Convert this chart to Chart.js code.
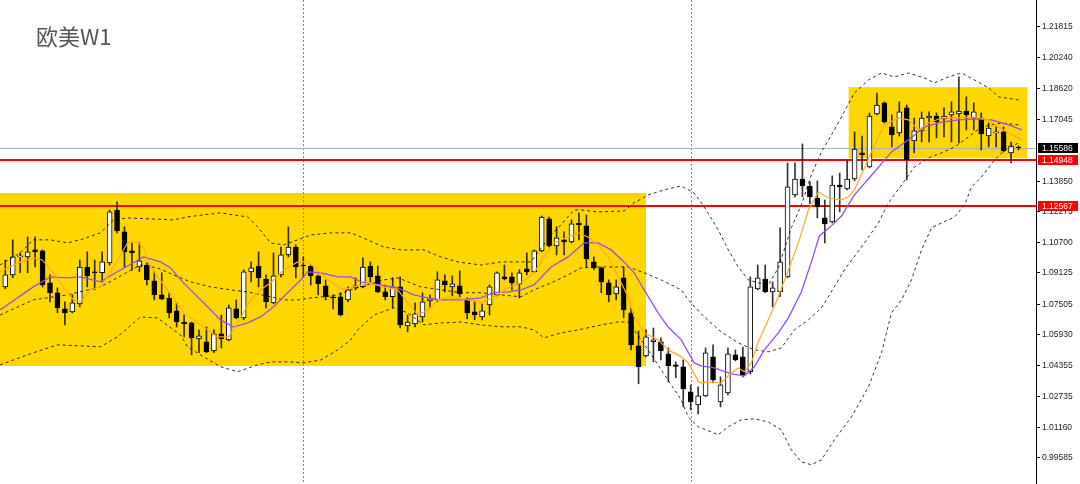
<!DOCTYPE html>
<html>
<head>
<meta charset="utf-8">
<title>欧美W1</title>
<script src="https://cdn.jsdelivr.net/npm/chart.js@4.4.1/dist/chart.umd.min.js"></script>
<style>
  html, body { margin: 0; padding: 0; background: #fff; }
  #wrap { position: relative; width: 1080px; height: 484px; overflow: hidden; }
  #title { position: absolute; left: 36px; top: 19px; font: 22px 'Noto Sans CJK SC', sans-serif; color: #555; }
</style>
</head>
<body>
<div id="wrap">
  <canvas id="eurusdChart" width="1080" height="484"></canvas>
  <div id="title">欧美W1</div>
</div>
<script>
// Weekly EURUSD bars, oldest first
const opens = [
  1.0840, 1.0902, 1.0995, 1.0995, 1.1031, 1.1026, 1.0861, 1.0810, 1.0727, 1.0711,
  1.0752, 1.0943, 1.0918, 1.0913, 1.0964, 1.1237, 1.1124, 1.1026, 1.0943, 1.0953,
  1.0871, 1.0799, 1.0783, 1.0716, 1.0659, 1.0654, 1.0572, 1.0557, 1.0510, 1.0598,
  1.0567, 1.0727, 1.0680, 1.0918, 1.0948, 1.0881, 1.0758, 1.0902, 1.1005, 1.1046,
  1.0953, 1.0948, 1.0897, 1.0845, 1.0789, 1.0789, 1.0773, 1.0835, 1.0840, 1.0948,
  1.0897, 1.0814, 1.0789, 1.0840, 1.0639, 1.0649, 1.0685, 1.0768, 1.0773, 1.0871,
  1.0840, 1.0845, 1.0778, 1.0711, 1.0685, 1.0747, 1.0799, 1.0892, 1.0892, 1.0856,
  1.0933, 1.0918, 1.1026, 1.1191, 1.1052, 1.1083, 1.1072, 1.1170, 1.1155, 1.0969,
  1.0938, 1.0861, 1.0804, 1.0887, 1.0706, 1.0536, 1.0484, 1.0557, 1.0557, 1.0494,
  1.0438, 1.0428, 1.0298, 1.0231, 1.0278, 1.0479, 1.0247, 1.0293, 1.0489, 1.0479,
  1.0402, 1.0830, 1.0881, 1.0814, 1.0814, 1.0892, 1.1315, 1.1397, 1.1361, 1.1299,
  1.1196, 1.1176, 1.1366, 1.1346, 1.1397, 1.1532, 1.1459, 1.1733, 1.1790, 1.1666,
  1.1635, 1.1764, 1.1594, 1.1645, 1.1712, 1.1722, 1.1707, 1.1728, 1.1733, 1.1748,
  1.1712, 1.1712, 1.1619, 1.1635, 1.1640, 1.1532, 1.1562
];
const highs = [
  1.0979, 1.1083, 1.1016, 1.1098, 1.1098, 1.1031, 1.0902, 1.0835, 1.0763, 1.0799,
  1.0979, 1.1021, 1.0979, 1.1021, 1.1237, 1.1279, 1.1150, 1.1072, 1.1067, 1.0964,
  1.0918, 1.0913, 1.0810, 1.0758, 1.0695, 1.0659, 1.0618, 1.0633, 1.0618, 1.0695,
  1.0747, 1.0773, 1.0928, 1.0969, 1.1021, 1.0902, 1.1016, 1.1046, 1.1150, 1.1057,
  1.0995, 1.0953, 1.0902, 1.0876, 1.0799, 1.0810, 1.0840, 1.0887, 1.0990, 1.0969,
  1.0948, 1.0850, 1.0887, 1.0892, 1.0695, 1.0758, 1.0810, 1.0799, 1.0918, 1.0902,
  1.0897, 1.0923, 1.0783, 1.0768, 1.0752, 1.0850, 1.0918, 1.0953, 1.0913, 1.0928,
  1.1016, 1.1031, 1.1206, 1.1201, 1.1150, 1.1124, 1.1186, 1.1222, 1.1211, 1.0995,
  1.0943, 1.0876, 1.0876, 1.0943, 1.0732, 1.0613, 1.0618, 1.0628, 1.0577, 1.0525,
  1.0453, 1.0463, 1.0334, 1.0324, 1.0525, 1.0541, 1.0376, 1.0525, 1.0515, 1.0530,
  1.0892, 1.0953, 1.0953, 1.0866, 1.1145, 1.1480, 1.1480, 1.1578, 1.1382, 1.1387,
  1.1289, 1.1413, 1.1428, 1.1495, 1.1640, 1.1619, 1.1738, 1.1841, 1.1795, 1.1728,
  1.1795, 1.1779, 1.1712, 1.1743, 1.1743, 1.1738, 1.1764, 1.1795, 1.1924, 1.1821,
  1.1790, 1.1738, 1.1686, 1.1666, 1.1666, 1.1588, 1.1568
];
const lows = [
  1.0830, 1.0887, 1.0913, 1.0913, 1.0943, 1.0840, 1.0763, 1.0706, 1.0644, 1.0706,
  1.0737, 1.0840, 1.0825, 1.0866, 1.0953, 1.1119, 1.0943, 1.0928, 1.0918, 1.0850,
  1.0773, 1.0773, 1.0680, 1.0633, 1.0582, 1.0489, 1.0500, 1.0500, 1.0500, 1.0525,
  1.0562, 1.0675, 1.0670, 1.0866, 1.0840, 1.0732, 1.0752, 1.0892, 1.0995, 1.0887,
  1.0892, 1.0850, 1.0799, 1.0773, 1.0727, 1.0690, 1.0763, 1.0825, 1.0835, 1.0866,
  1.0810, 1.0773, 1.0732, 1.0628, 1.0608, 1.0633, 1.0659, 1.0732, 1.0763, 1.0814,
  1.0794, 1.0789, 1.0675, 1.0670, 1.0670, 1.0695, 1.0794, 1.0876, 1.0825, 1.0783,
  1.0902, 1.0913, 1.1021, 1.1046, 1.1005, 1.1005, 1.1067, 1.1083, 1.0943, 1.0928,
  1.0810, 1.0763, 1.0773, 1.0680, 1.0515, 1.0340, 1.0479, 1.0453, 1.0463, 1.0350,
  1.0371, 1.0221, 1.0205, 1.0185, 1.0273, 1.0345, 1.0221, 1.0283, 1.0458, 1.0376,
  1.0391, 1.0825, 1.0810, 1.0737, 1.0789, 1.0887, 1.1305, 1.1305, 1.1269, 1.1196,
  1.1067, 1.1170, 1.1227, 1.1341, 1.1387, 1.1444, 1.1454, 1.1728, 1.1686, 1.1562,
  1.1619, 1.1392, 1.1532, 1.1588, 1.1588, 1.1609, 1.1614, 1.1588, 1.1583, 1.1650,
  1.1650, 1.1547, 1.1562, 1.1562, 1.1537, 1.1480, 1.1547
];
const closes = [
  1.0902, 1.0995, 1.1000, 1.1021, 1.1021, 1.0850, 1.0810, 1.0732, 1.0706, 1.0758,
  1.0943, 1.0897, 1.0913, 1.0969, 1.1227, 1.1129, 1.1021, 1.1016, 1.0974, 1.0876,
  1.0799, 1.0778, 1.0706, 1.0659, 1.0649, 1.0577, 1.0587, 1.0505, 1.0598, 1.0572,
  1.0732, 1.0680, 1.0918, 1.0938, 1.0887, 1.0763, 1.0897, 1.1005, 1.1046, 1.0943,
  1.0948, 1.0897, 1.0856, 1.0789, 1.0783, 1.0695, 1.0825, 1.0845, 1.0943, 1.0892,
  1.0814, 1.0789, 1.0840, 1.0644, 1.0659, 1.0701, 1.0763, 1.0778, 1.0876, 1.0850,
  1.0856, 1.0804, 1.0706, 1.0695, 1.0716, 1.0840, 1.0913, 1.0881, 1.0861, 1.0913,
  1.0918, 1.1026, 1.1201, 1.1052, 1.1093, 1.1072, 1.1165, 1.1160, 1.0985, 1.0938,
  1.0866, 1.0799, 1.0840, 1.0721, 1.0541, 1.0428, 1.0582, 1.0567, 1.0510, 1.0433,
  1.0430, 1.0314, 1.0247, 1.0278, 1.0500, 1.0360, 1.0334, 1.0494, 1.0463, 1.0386,
  1.0840, 1.0887, 1.0814, 1.0835, 1.0969, 1.1356, 1.1397, 1.1361, 1.1305, 1.1253,
  1.1165, 1.1366, 1.1356, 1.1397, 1.1552, 1.1521, 1.1722, 1.1779, 1.1691, 1.1624,
  1.1743, 1.1495, 1.1645, 1.1712, 1.1722, 1.1691, 1.1722, 1.1743, 1.1748, 1.1728,
  1.1743, 1.1630, 1.1660, 1.1640, 1.1542, 1.1568, 1.15586
];

// Indicator lines: [bar index, price]
const maFast = [
  [-0.7, 1.0918], [1.75, 1.0964], [3.76, 1.0990], [4.97, 1.0979], [6.45, 1.0913], [8.33, 1.0810],
  [9.14, 1.0773], [10.08, 1.0763], [11.42, 1.0825], [12.77, 1.0840], [14.11, 1.0913], [16.40, 1.1067],
  [17.74, 1.1072], [18.55, 1.1041], [19.49, 1.0943], [21.77, 1.0825], [23.92, 1.0706], [26.61, 1.0633],
  [28.49, 1.0582], [29.97, 1.0582], [31.18, 1.0654], [32.93, 1.0773], [34.27, 1.0825], [35.62, 1.0861],
  [37.37, 1.0928], [39.25, 1.0969], [40.59, 1.0969], [41.94, 1.0928], [43.28, 1.0876], [45.43, 1.0825],
  [46.77, 1.0840], [48.66, 1.0861], [50.81, 1.0840], [52.69, 1.0825], [54.03, 1.0758], [55.38, 1.0695],
  [56.72, 1.0721], [58.06, 1.0773], [59.81, 1.0789], [62.10, 1.0773], [63.84, 1.0758], [65.59, 1.0789],
  [67.47, 1.0835], [69.22, 1.0861], [70.97, 1.0913], [72.31, 1.0995], [73.66, 1.1067], [75.54, 1.1098],
  [76.88, 1.1119], [78.23, 1.1098], [79.57, 1.1057], [80.91, 1.0995], [82.26, 1.0892], [83.60, 1.0789],
  [84.41, 1.0685], [85.75, 1.0603], [87.63, 1.0567], [88.98, 1.0515], [90.73, 1.0479], [91.67, 1.0448],
  [93.15, 1.0345], [94.35, 1.0350], [96.10, 1.0345], [97.45, 1.0396], [98.39, 1.0422], [99.19, 1.0402],
  [100.13, 1.0448], [101.08, 1.0557], [102.42, 1.0670], [103.76, 1.0789], [105.11, 1.0928], [106.45, 1.1067],
  [107.80, 1.1237], [109.14, 1.1330], [110.48, 1.1299], [112.23, 1.1289], [113.17, 1.1305], [113.98, 1.1341],
  [115.32, 1.1454], [116.67, 1.1573], [118.01, 1.1676], [119.89, 1.1712], [121.24, 1.1702], [122.58, 1.1650],
  [123.92, 1.1686], [125.67, 1.1712], [127.96, 1.1712], [130.11, 1.1717], [131.99, 1.1702], [133.33, 1.1666],
  [134.68, 1.1635], [136.43, 1.1599]
];
const maSlow = [
  [-0.7, 1.0721], [3.76, 1.0840], [6.05, 1.0892], [8.33, 1.0887], [10.08, 1.0892], [12.77, 1.0866],
  [15.05, 1.0918], [18.55, 1.0995], [20.83, 1.0969], [22.18, 1.0938], [23.92, 1.0861], [26.61, 1.0758],
  [28.90, 1.0670], [30.65, 1.0633], [32.53, 1.0654], [34.27, 1.0685], [36.02, 1.0737], [37.90, 1.0810],
  [39.65, 1.0876], [40.59, 1.0918], [42.34, 1.0913], [44.62, 1.0892], [46.37, 1.0892], [47.72, 1.0866],
  [50.40, 1.0850], [52.69, 1.0835], [54.84, 1.0799], [56.72, 1.0783], [58.47, 1.0773], [61.16, 1.0773],
  [63.84, 1.0783], [65.59, 1.0810], [67.47, 1.0814], [69.22, 1.0825], [70.97, 1.0850], [73.25, 1.0943],
  [75.54, 1.0995], [77.69, 1.1067], [79.57, 1.1067], [81.32, 1.1031], [83.06, 1.0969], [84.41, 1.0913],
  [85.75, 1.0825], [87.63, 1.0706], [88.98, 1.0633], [90.73, 1.0567], [92.47, 1.0448], [93.41, 1.0433],
  [95.16, 1.0422], [97.45, 1.0391], [99.19, 1.0381], [100.54, 1.0428], [101.88, 1.0515], [103.76, 1.0603],
  [105.11, 1.0680], [106.85, 1.0814], [108.20, 1.0969], [109.27, 1.1103], [110.89, 1.1155], [112.23, 1.1206],
  [113.98, 1.1315], [116.67, 1.1433], [118.95, 1.1537], [121.24, 1.1599], [123.39, 1.1666], [125.67, 1.1691],
  [127.96, 1.1702], [130.11, 1.1707], [132.39, 1.1702], [134.68, 1.1676], [136.43, 1.1650]
];
const bandUpper = [
  [-0.7, 1.0953], [2.02, 1.1016], [3.76, 1.1083], [6.05, 1.1083], [8.33, 1.1067], [10.48, 1.1088],
  [12.77, 1.1119], [14.52, 1.1186], [16.40, 1.1196], [19.49, 1.1191], [22.58, 1.1186], [24.46, 1.1201],
  [26.61, 1.1212], [28.90, 1.1222], [32.53, 1.1201], [33.87, 1.1150], [35.62, 1.1067], [37.37, 1.1057],
  [39.25, 1.1083], [41.00, 1.1108], [43.68, 1.1119], [46.37, 1.1119], [47.72, 1.1098], [50.81, 1.1046],
  [53.09, 1.1031], [56.18, 1.1031], [58.47, 1.0995], [60.75, 1.0969], [63.84, 1.0953], [66.53, 1.0969],
  [70.56, 1.0969], [73.25, 1.1108], [74.33, 1.1150], [76.34, 1.1237], [77.28, 1.1237], [79.57, 1.1227],
  [83.06, 1.1232], [84.41, 1.1274], [86.29, 1.1315], [88.44, 1.1341], [90.73, 1.1361], [92.47, 1.1325],
  [93.82, 1.1253], [95.70, 1.1134], [97.04, 1.1031], [98.39, 1.0943], [99.73, 1.0876], [101.08, 1.0861],
  [102.42, 1.0850], [103.76, 1.0938], [105.51, 1.1145], [106.85, 1.1263], [108.20, 1.1418], [109.54, 1.1537],
  [111.29, 1.1650], [112.23, 1.1717], [113.98, 1.1841], [115.86, 1.1908], [117.61, 1.1944], [119.35, 1.1924],
  [121.24, 1.1944], [123.39, 1.1918], [124.73, 1.1893], [126.61, 1.1924], [128.36, 1.1944], [130.11, 1.1908],
  [131.99, 1.1867], [133.33, 1.1821], [136.02, 1.1805]
];
const bandMiddle = [
  [-0.7, 1.0695], [3.76, 1.0773], [8.33, 1.0799], [12.77, 1.0840], [18.15, 1.0953], [20.43, 1.0938],
  [23.52, 1.0887], [24.87, 1.0866], [27.55, 1.0840], [30.24, 1.0825], [32.53, 1.0814], [35.62, 1.0789],
  [37.37, 1.0773], [39.25, 1.0773], [41.00, 1.0783], [42.74, 1.0789], [44.62, 1.0799], [46.37, 1.0825],
  [50.81, 1.0876], [52.69, 1.0887], [55.78, 1.0840], [58.47, 1.0825], [61.16, 1.0810], [63.84, 1.0810],
  [66.53, 1.0799], [69.22, 1.0789], [70.97, 1.0825], [73.25, 1.0861], [75.54, 1.0902], [77.28, 1.0938],
  [79.57, 1.0943], [83.60, 1.0943], [85.75, 1.0913], [88.04, 1.0876], [90.73, 1.0825], [91.67, 1.0773],
  [93.82, 1.0685], [96.10, 1.0608], [98.39, 1.0551], [100.54, 1.0515], [102.42, 1.0505], [104.17, 1.0525],
  [105.91, 1.0618], [107.80, 1.0670], [109.54, 1.0732], [110.48, 1.0789], [112.63, 1.0928], [114.92, 1.1046],
  [117.20, 1.1170], [118.55, 1.1274], [120.30, 1.1366], [122.04, 1.1459], [123.92, 1.1506], [125.67, 1.1532],
  [127.42, 1.1562], [128.76, 1.1599], [131.05, 1.1666], [133.74, 1.1686], [136.02, 1.1676]
];
const bandLower = [
  [-0.7, 1.0438], [3.76, 1.0500], [6.99, 1.0541], [12.77, 1.0531], [15.05, 1.0582], [18.15, 1.0685],
  [20.43, 1.0680], [23.52, 1.0592], [24.46, 1.0531], [26.61, 1.0479], [28.90, 1.0428], [31.18, 1.0402],
  [33.87, 1.0438], [35.62, 1.0453], [38.31, 1.0453], [40.05, 1.0448], [42.34, 1.0463], [44.62, 1.0515],
  [46.37, 1.0567], [47.31, 1.0618], [49.46, 1.0695], [52.15, 1.0732], [54.03, 1.0706], [56.18, 1.0644],
  [58.47, 1.0654], [61.16, 1.0659], [63.84, 1.0644], [66.53, 1.0634], [69.22, 1.0634], [70.97, 1.0618],
  [72.31, 1.0577], [74.60, 1.0603], [76.88, 1.0618], [79.97, 1.0644], [82.26, 1.0659], [83.60, 1.0659],
  [84.41, 1.0618], [86.29, 1.0515], [88.04, 1.0412], [90.73, 1.0257], [91.67, 1.0169], [93.01, 1.0118],
  [95.70, 1.0077], [97.04, 1.0118], [98.79, 1.0154], [100.54, 1.0159], [102.42, 1.0143], [104.17, 1.0102],
  [105.51, 0.9999], [106.85, 0.9937], [108.20, 0.9922], [109.54, 0.9947], [111.29, 1.0051], [113.58, 1.0169],
  [115.86, 1.0324], [117.61, 1.0500], [118.95, 1.0706], [120.30, 1.0773], [121.64, 1.0876], [122.98, 1.1031],
  [124.33, 1.1145], [125.67, 1.1170], [127.42, 1.1201], [128.76, 1.1263], [129.70, 1.1356], [131.05, 1.1408],
  [132.80, 1.1495], [134.14, 1.1547], [136.02, 1.1583]
];

// Right price scale
const priceTicks = [1.21815, 1.20240, 1.18620, 1.17045, 1.13850, 1.12275, 1.10700, 1.09125,
                    1.07505, 1.05930, 1.04355, 1.02735, 1.01160, 0.99585];
const tagPrices = [1.15586, 1.14948, 1.12567];
const tagColors = ['#000000', '#ff0000', '#ff0000'];

// Drawn objects
const redLevels = [1.14948, 1.12567];
const lastPrice = 1.15586;
const yearBreaks = [40, 92];
const zoneFrom = [-0.8, 113.2];
const zoneTo = [86.0, 137.2];
const zoneHigh = [1.1325, 1.1871];
const zoneLow = [1.0432, 1.1504];

const wickData = lows.map((l, i) => ({ x: i, y: [l, highs[i]] }));
const bodyData = opens.map((o, i) => ({ x: i, y: [o, closes[i]] }));
const bodyColors = opens.map((o, i) => closes[i] >= o ? '#ffffff' : '#000000');
const toPts = arr => arr.map(p => ({ x: p[0], y: p[1] }));

// Zones, levels and separators behind the bars
const objectsPlugin = {
    id: 'objects',
    beforeDatasetsDraw(chart) {
        const { ctx, chartArea: a, scales: { x, y } } = chart;
        ctx.save();
        ctx.beginPath();
        ctx.rect(a.left, a.top, a.right - a.left, a.bottom - a.top);
        ctx.clip();

        ctx.fillStyle = '#ffd700';
        zoneFrom.forEach((f, k) => {
            const x0 = x.getPixelForValue(f), x1 = x.getPixelForValue(zoneTo[k]);
            const y0 = y.getPixelForValue(zoneHigh[k]), y1 = y.getPixelForValue(zoneLow[k]);
            ctx.fillRect(x0, y0, x1 - x0, y1 - y0);
        });

        ctx.strokeStyle = '#7a8594';
        ctx.lineWidth = 1;
        ctx.setLineDash([2, 2]);
        yearBreaks.forEach(b => {
            const px = Math.round(x.getPixelForValue(b)) + 0.5;
            ctx.beginPath();
            ctx.moveTo(px, a.top);
            ctx.lineTo(px, a.bottom);
            ctx.stroke();
        });
        ctx.setLineDash([]);

        const gy = Math.round(y.getPixelForValue(lastPrice)) + 0.5;
        ctx.strokeStyle = '#a8b3c2';
        ctx.beginPath();
        ctx.moveTo(a.left, gy);
        ctx.lineTo(a.right, gy);
        ctx.stroke();

        ctx.strokeStyle = '#ff0000';
        ctx.lineWidth = 2;
        redLevels.forEach(v => {
            const py = Math.round(y.getPixelForValue(v));
            ctx.beginPath();
            ctx.moveTo(a.left, py);
            ctx.lineTo(a.right, py);
            ctx.stroke();
        });
        ctx.restore();
    },
    afterDraw(chart) {
        const { ctx, chartArea: a, scales: { y } } = chart;
        ctx.save();
        ctx.font = '8.5px "Liberation Sans"';
        ctx.textBaseline = 'middle';
        tagPrices.forEach((v, k) => {
            const py = Math.round(y.getPixelForValue(v));
            ctx.fillStyle = tagColors[k];
            ctx.fillRect(a.right + 2, py - 5, 40, 10);
            ctx.fillStyle = '#ffffff';
            ctx.fillText(v.toFixed(5), a.right + 6, py + 0.5);
        });
        ctx.restore();
    }
};

const lineSet = (label, pts, color, dash, width) => ({
    type: 'line',
    label: label,
    data: toPts(pts),
    borderColor: color,
    borderWidth: width,
    borderDash: dash,
    pointRadius: 0,
    tension: 0,
    fill: false,
    order: 0
});

const ctx = document.getElementById('eurusdChart').getContext('2d');
new Chart(ctx, {
    type: 'bar',
    data: {
        datasets: [
            lineSet('MA fast', maFast, '#ffa726', [], 1.2),
            lineSet('MA slow', maSlow, '#9b4de6', [], 1.3),
            lineSet('BB upper', bandUpper, 'rgba(0,0,0,0.8)', [3, 3], 1),
            lineSet('BB middle', bandMiddle, 'rgba(0,0,0,0.8)', [3, 3], 1),
            lineSet('BB lower', bandLower, 'rgba(0,0,0,0.8)', [3, 3], 1),
            {
                label: 'body',
                data: bodyData,
                backgroundColor: bodyColors,
                borderColor: '#000000',
                borderWidth: 1,
                borderSkipped: false,
                barThickness: 5,
                grouped: false,
                order: 1
            },
            {
                label: 'wick',
                data: wickData,
                backgroundColor: 'rgba(0,0,0,0.8)',
                borderWidth: 0,
                barThickness: 1,
                grouped: false,
                order: 2
            }
        ]
    },
    options: {
        responsive: false,
        animation: false,
        events: [],
        layout: { padding: 0 },
        plugins: {
            legend: { display: false },
            tooltip: { enabled: false }
        },
        scales: {
            x: {
                type: 'linear',
                min: -0.711,
                max: 138.35,
                offset: false,
                display: false
            },
            y: {
                position: 'right',
                min: 0.98228,
                max: 1.23208,
                afterBuildTicks: function(axis) {
                    axis.ticks = priceTicks.map(v => ({ value: v }));
                },
                afterFit: function(axis) {
                    axis.width = 44;
                    axis.paddingTop = 0;
                    axis.paddingBottom = 0;
                },
                grid: {
                    drawOnChartArea: false,
                    drawTicks: true,
                    tickLength: 4,
                    color: '#000000'
                },
                border: { display: true, color: '#000000' },
                ticks: {
                    autoSkip: false,
                    padding: 2,
                    color: '#222222',
                    font: { family: 'Liberation Sans', size: 8.5 },
                    callback: function(value) {
                        return Number(value).toFixed(5);
                    }
                }
            }
        }
    },
    plugins: [objectsPlugin]
});
</script>
</body>
</html>
